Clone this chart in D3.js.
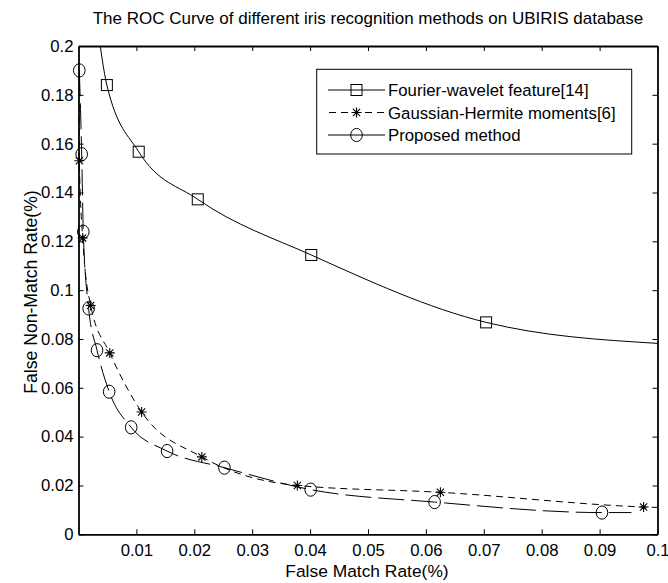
<!DOCTYPE html>
<html><head><meta charset="utf-8">
<script src="https://cdn.jsdelivr.net/npm/d3@7"></script>
<style>body{margin:0;background:#fff}svg{display:block}text{font-family:"Liberation Sans",Arial,sans-serif;fill:#000}</style>
</head><body><svg id="c" width="668" height="583"></svg>
<script>
// ---- data ----
const xTicks = [0.01,0.02,0.03,0.04,0.05,0.06,0.07,0.08,0.09,0.1];
const yTicks = [0,0.02,0.04,0.06,0.08,0.1,0.12,0.14,0.16,0.18,0.2];
const seriesNames = ["Fourier-wavelet feature[14]","Gaussian-Hermite moments[6]","Proposed method"];
// Fourier-wavelet: marker points
const fourierX = [0.0049,0.0104,0.0206,0.0402,0.0704];
const fourierY = [0.184,0.1567,0.1372,0.1144,0.0868];
// curve extends beyond markers (clipped at axes)
const fourierLineX = [0.0033,0.0049,0.0104,0.0206,0.0402,0.0704,0.1];
const fourierLineY = [0.208,0.184,0.1567,0.1372,0.1144,0.0868,0.0782];
// Gaussian-Hermite moments
const gaussX = [0.00014,0.00072,0.0021,0.0054,0.0109,0.0213,0.0378,0.0625,0.0976];
const gaussY = [0.153,0.1214,0.0937,0.0743,0.0501,0.0317,0.020,0.0172,0.0112];
const gaussLineX = [0.00005,0.00014,0.00072,0.0021,0.0054,0.0109,0.0213,0.0378,0.0625,0.0976,0.1];
const gaussLineY = [0.176,0.153,0.1214,0.0937,0.0743,0.0501,0.0317,0.020,0.0172,0.0112,0.0110];
// Proposed method
const propX = [0.00014,0.00055,0.00083,0.00175,0.0032,0.0053,0.0091,0.0153,0.0252,0.0401,0.0615,0.0904];
const propY = [0.190,0.1557,0.1239,0.0925,0.0754,0.0584,0.0438,0.0341,0.0273,0.0183,0.0132,0.0089];
const propLineX = [...propX, 0.0955];
const propLineY = [...propY, 0.0089];

// ---- layout ----
const svg = d3.select("#c");
const L = 78.5, R = 657.5, T = 46, B = 534.3;
const x = d3.scaleLinear().domain([0,0.1]).range([L,R]);
const y = d3.scaleLinear().domain([0,0.2]).range([B,T]);
const FS = "16.7px";

svg.append("defs").append("clipPath").attr("id","clip")
  .append("rect").attr("x",L).attr("y",T).attr("width",R-L).attr("height",B-T);

const fmt = d => d===0 ? "0" : String(+d.toFixed(2));
const tickLen = 5;

// axes with inward ticks (box style)
const gx = svg.append("g").attr("transform",`translate(0,${B})`)
  .call(d3.axisBottom(x).tickValues(xTicks).tickFormat(fmt).tickSizeInner(-tickLen).tickSizeOuter(0).tickPadding(9.5));
const gxt = svg.append("g").attr("transform",`translate(0,${T})`)
  .call(d3.axisTop(x).tickValues(xTicks).tickFormat("").tickSizeInner(-tickLen).tickSizeOuter(0));
const gy = svg.append("g").attr("transform",`translate(${L},0)`)
  .call(d3.axisLeft(y).tickValues(yTicks).tickFormat(fmt).tickSizeInner(-tickLen).tickSizeOuter(0).tickPadding(5));
const gyr = svg.append("g").attr("transform",`translate(${R},0)`)
  .call(d3.axisRight(y).tickValues(yTicks).tickFormat("").tickSizeInner(-tickLen).tickSizeOuter(0));
[gx,gxt,gy,gyr].forEach(g=>{
  g.select(".domain").attr("stroke","#000").attr("stroke-width",1.8);
  g.selectAll(".tick line").attr("stroke","#000").attr("stroke-width",1);
  g.selectAll("text").style("font-family","'Liberation Sans',Arial,sans-serif").style("font-size",FS).attr("fill","#000");
});

// lines
const line = d3.line().x(d=>x(d[0])).y(d=>y(d[1])).curve(d3.curveMonotoneX);
const plot = svg.append("g").attr("clip-path","url(#clip)");
const zip = (a,b)=>a.map((v,i)=>[v,b[i]]);
plot.append("path").datum(zip(fourierLineX,fourierLineY)).attr("d",line)
  .attr("fill","none").attr("stroke","#000").attr("stroke-width",1);
plot.append("path").datum(zip(gaussLineX,gaussLineY)).attr("d",line)
  .attr("fill","none").attr("stroke","#000").attr("stroke-width",1).attr("stroke-dasharray","7,5");
plot.append("path").datum(zip(propLineX,propLineY)).attr("d",line)
  .attr("fill","none").attr("stroke","#000").attr("stroke-width",1).attr("stroke-dasharray","26,7");

// markers
function square(g,cx,cy){ g.append("rect").attr("x",cx-5.5).attr("y",cy-5.5).attr("width",11).attr("height",11)
  .attr("fill","none").attr("stroke","#000").attr("stroke-width",1); }
function circle(g,cx,cy){ g.append("ellipse").attr("cx",cx).attr("cy",cy).attr("rx",5.8).attr("ry",6.6)
  .attr("fill","none").attr("stroke","#000").attr("stroke-width",1); }
function star(g,cx,cy){ const s=5, d=3.6;
  const p=`M${cx-s},${cy}L${cx+s},${cy}M${cx},${cy-s}L${cx},${cy+s}M${cx-d},${cy-d}L${cx+d},${cy+d}M${cx-d},${cy+d}L${cx+d},${cy-d}`;
  g.append("path").attr("d",p).attr("stroke","#000").attr("stroke-width",1.1).attr("fill","none"); }
const mk = svg.append("g");
fourierX.forEach((v,i)=>square(mk,x(v),y(fourierY[i])));
gaussX.forEach((v,i)=>star(mk,x(v),y(gaussY[i])));
propX.forEach((v,i)=>circle(mk,x(v),y(propY[i])));

// title & labels
svg.append("text").attr("x",(L+R)/2).attr("y",24).attr("text-anchor","middle").style("font-size","17px")
  .text("The ROC Curve of different iris recognition methods on UBIRIS database");
svg.append("text").attr("x",367).attr("y",577).attr("text-anchor","middle").style("font-size","17.4px")
  .text("False Match Rate(%)");
svg.append("text").attr("transform","translate(36.5,292) rotate(-90)").attr("text-anchor","middle").style("font-size","17.6px")
  .text("False Non-Match Rate(%)");

// legend
const lg = svg.append("g");
lg.append("rect").attr("x",316.7).attr("y",69.3).attr("width",315).attr("height",84.7)
  .attr("fill","#fff").attr("stroke","#000").attr("stroke-width",1);
const legY = [90,112.5,135];
const dashes = [null,"7,5",null];
const drawers = [square,star,circle];
seriesNames.forEach((n,i)=>{
  const l = lg.append("line").attr("x1",328).attr("x2",385).attr("y1",legY[i]).attr("y2",legY[i])
    .attr("stroke","#000").attr("stroke-width",1);
  if(dashes[i]) l.attr("stroke-dasharray",dashes[i]).attr("stroke-dashoffset",-1);
  drawers[i](lg,356.5,legY[i]);
  lg.append("text").attr("x",388).attr("y",legY[i]+6).style("font-size","16.8px").text(n);
});
</script></body></html>
